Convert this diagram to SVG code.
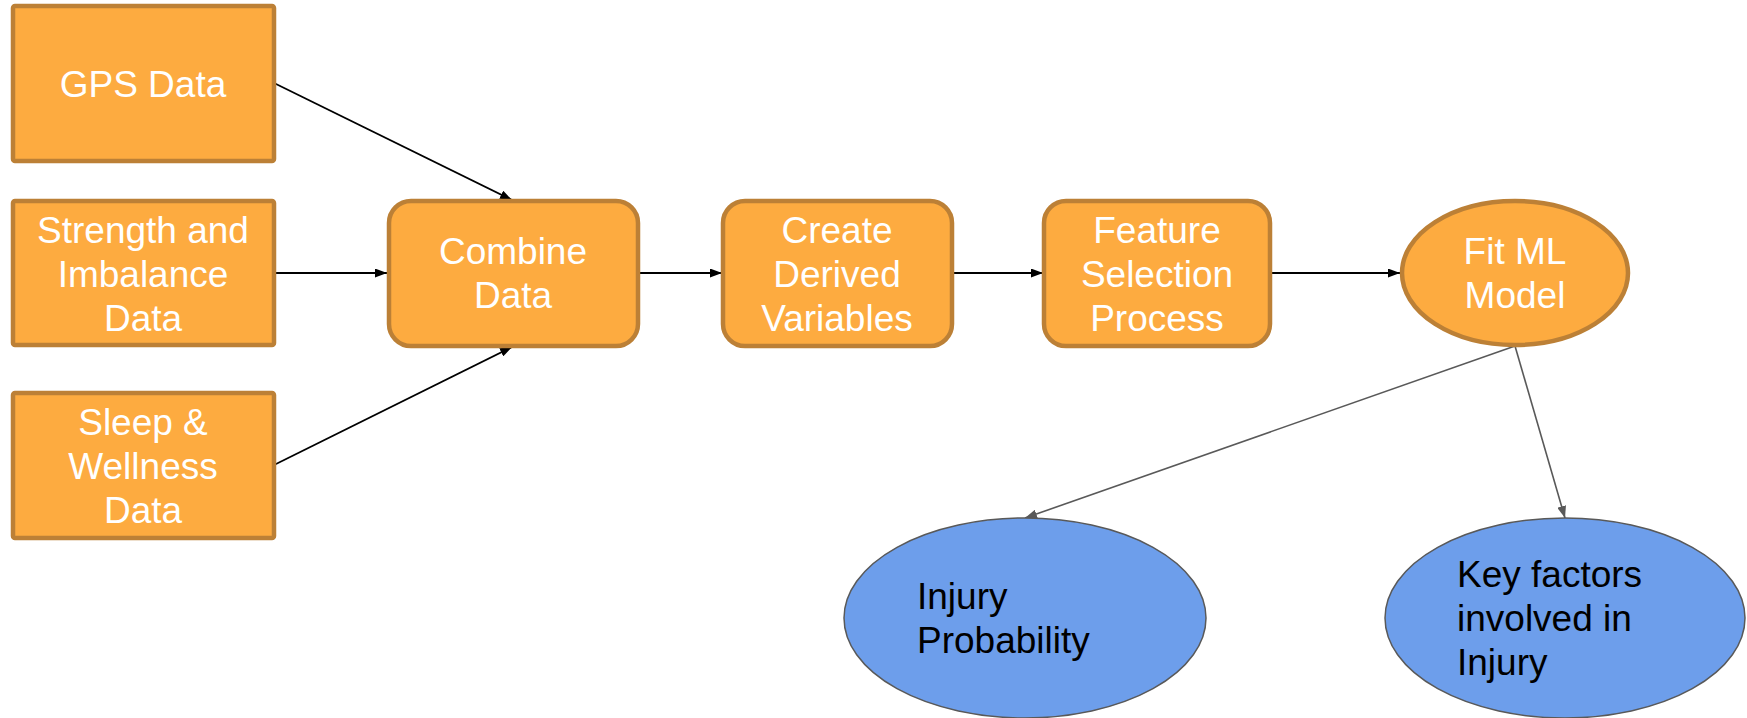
<svg xmlns="http://www.w3.org/2000/svg" width="1747" height="718" viewBox="0 0 1747 718">
  <style>
    .src { fill: #fdab40; stroke: #bc8036; stroke-width: 4.5; }
    .step { fill: #fdab40; stroke: #bc8036; stroke-width: 4.5; }
    .out { fill: #6d9eeb; stroke: #595959; stroke-width: 1.5; }
    .lbl { font-family: "Liberation Sans", Arial, sans-serif; font-size: 37px; fill: #ffffff; text-anchor: middle; }
    .lbl-dark { font-family: "Liberation Sans", Arial, sans-serif; font-size: 37px; fill: #000000; }
    .flow { stroke: #000000; stroke-width: 1.8; fill: none; marker-end: url(#arrowBlack); }
    .result { stroke: #595959; stroke-width: 1.6; fill: none; marker-end: url(#arrowGray); }
  </style>
  <defs>
    <marker id="arrowBlack" markerWidth="12" markerHeight="9" refX="12" refY="4.5" orient="auto" markerUnits="userSpaceOnUse">
      <path d="M0,0 L12,4.5 L0,9 Z" fill="#000000"/>
    </marker>
    <marker id="arrowGray" markerWidth="12" markerHeight="9" refX="12" refY="4.5" orient="auto" markerUnits="userSpaceOnUse">
      <path d="M0,0 L12,4.5 L0,9 Z" fill="#595959"/>
    </marker>
  </defs>

  <rect width="1747" height="718" fill="#ffffff"/>

  <!-- connectors -->
  <g id="connectors">
    <line class="flow" x1="274" y1="83" x2="512" y2="200"/>
    <line class="flow" x1="275" y1="273" x2="387" y2="273"/>
    <line class="flow" x1="274" y1="465" x2="512" y2="347"/>
    <line class="flow" x1="639" y1="273" x2="722" y2="273"/>
    <line class="flow" x1="954" y1="273" x2="1043" y2="273"/>
    <line class="flow" x1="1272" y1="273" x2="1400" y2="273"/>
    <line class="result" x1="1515" y1="346" x2="1025" y2="518"/>
    <line class="result" x1="1515" y1="346" x2="1565" y2="518"/>
  </g>

  <!-- data sources -->
  <g id="gps-data">
    <rect class="src" x="13" y="6" width="261" height="155" rx="2"/>
    <text class="lbl" x="143" y="97">GPS Data</text>
  </g>
  <g id="strength-data">
    <rect class="src" x="13" y="201" width="261" height="144" rx="2"/>
    <text class="lbl" x="143" y="243">Strength and</text>
    <text class="lbl" x="143" y="287">Imbalance</text>
    <text class="lbl" x="143" y="331">Data</text>
  </g>
  <g id="sleep-data">
    <rect class="src" x="13" y="393" width="261" height="145" rx="2"/>
    <text class="lbl" x="143" y="435">Sleep &amp;</text>
    <text class="lbl" x="143" y="479">Wellness</text>
    <text class="lbl" x="143" y="523">Data</text>
  </g>

  <!-- processing steps -->
  <g id="combine-data">
    <rect class="step" x="389" y="201" width="249" height="145" rx="22"/>
    <text class="lbl" x="513" y="264">Combine</text>
    <text class="lbl" x="513" y="308">Data</text>
  </g>
  <g id="derived-variables">
    <rect class="step" x="723" y="201" width="229" height="145" rx="22"/>
    <text class="lbl" x="837" y="243">Create</text>
    <text class="lbl" x="837" y="287">Derived</text>
    <text class="lbl" x="837" y="331">Variables</text>
  </g>
  <g id="feature-selection">
    <rect class="step" x="1044" y="201" width="226" height="145" rx="22"/>
    <text class="lbl" x="1157" y="243">Feature</text>
    <text class="lbl" x="1157" y="287">Selection</text>
    <text class="lbl" x="1157" y="331">Process</text>
  </g>
  <g id="fit-model">
    <ellipse class="step" cx="1515" cy="273" rx="113" ry="72"/>
    <text class="lbl" x="1515" y="264">Fit ML</text>
    <text class="lbl" x="1515" y="308">Model</text>
  </g>

  <!-- outputs -->
  <g id="injury-probability">
    <ellipse class="out" cx="1025" cy="618" rx="181" ry="100"/>
    <text class="lbl-dark" x="917" y="609">Injury</text>
    <text class="lbl-dark" x="917" y="653">Probability</text>
  </g>
  <g id="key-factors">
    <ellipse class="out" cx="1565" cy="618" rx="180" ry="100"/>
    <text class="lbl-dark" x="1457" y="587">Key factors</text>
    <text class="lbl-dark" x="1457" y="631">involved in</text>
    <text class="lbl-dark" x="1457" y="675">Injury</text>
  </g>
</svg>
